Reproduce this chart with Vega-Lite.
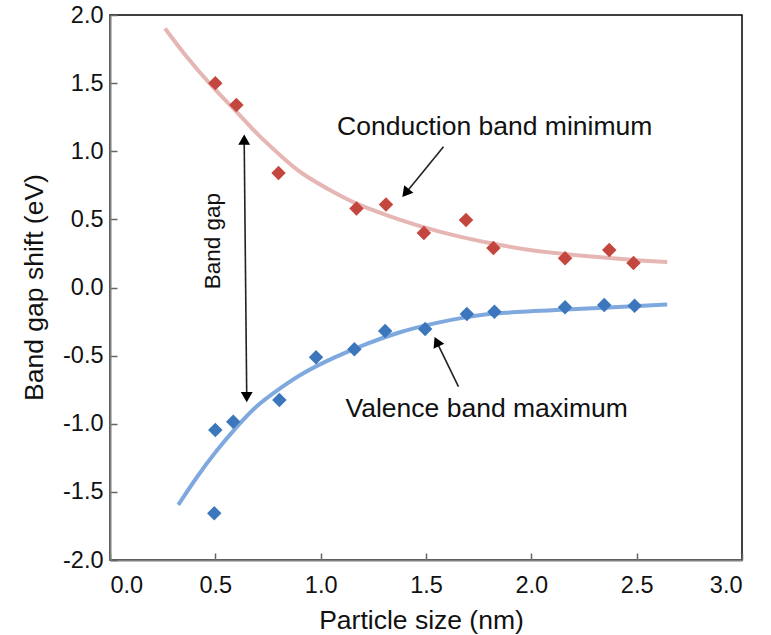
{
  "$schema": "https://vega.github.io/schema/vega-lite/v6.json",
  "autosize": "none",
  "width": 632,
  "height": 545,
  "padding": {"left": 110, "top": 15, "right": 29, "bottom": 75},
  "background": "white",
  "config": {
    "font": "Liberation Sans",
    "view": {"stroke": "black", "strokeWidth": 1.5},
    "axis": {
      "grid": false,
      "domainColor": "#7f7f7f",
      "domainWidth": 2,
      "tickColor": "#666666",
      "tickWidth": 1.5,
      "tickSize": -7,
      "labelFont": "Liberation Sans",
      "labelFontSize": 23.5,
      "labelColor": "#111",
      "titleFont": "Liberation Sans",
      "titleFontSize": 26.5,
      "titleFontWeight": "normal",
      "titleColor": "#111"
    }
  },
  "datasets": {
    "points": [
      {"size": 0.50, "shift": 1.50, "series": "CB data"},
      {"size": 0.60, "shift": 1.34, "series": "CB data"},
      {"size": 0.80, "shift": 0.84, "series": "CB data"},
      {"size": 1.17, "shift": 0.58, "series": "CB data"},
      {"size": 1.31, "shift": 0.61, "series": "CB data"},
      {"size": 1.49, "shift": 0.40, "series": "CB data"},
      {"size": 1.69, "shift": 0.495, "series": "CB data"},
      {"size": 1.82, "shift": 0.29, "series": "CB data"},
      {"size": 2.16, "shift": 0.215, "series": "CB data"},
      {"size": 2.37, "shift": 0.275, "series": "CB data"},
      {"size": 2.485, "shift": 0.18, "series": "CB data"},
      {"size": 0.50, "shift": -1.046, "series": "VB data"},
      {"size": 0.585, "shift": -0.985, "series": "VB data"},
      {"size": 0.495, "shift": -1.657, "series": "VB data"},
      {"size": 0.804, "shift": -0.826, "series": "VB data"},
      {"size": 0.978, "shift": -0.512, "series": "VB data"},
      {"size": 1.16, "shift": -0.454, "series": "VB data"},
      {"size": 1.306, "shift": -0.319, "series": "VB data"},
      {"size": 1.496, "shift": -0.305, "series": "VB data"},
      {"size": 1.694, "shift": -0.194, "series": "VB data"},
      {"size": 1.825, "shift": -0.178, "series": "VB data"},
      {"size": 2.16, "shift": -0.145, "series": "VB data"},
      {"size": 2.346, "shift": -0.128, "series": "VB data"},
      {"size": 2.49, "shift": -0.134, "series": "VB data"}
    ],
    "curves": [
      {"size": 0.261, "shift": 1.902, "series": "CB fit"},
      {"size": 0.348, "shift": 1.719, "series": "CB fit"},
      {"size": 0.491, "shift": 1.462, "series": "CB fit"},
      {"size": 0.602, "shift": 1.29, "series": "CB fit"},
      {"size": 0.700, "shift": 1.12, "series": "CB fit"},
      {"size": 0.823, "shift": 0.95, "series": "CB fit"},
      {"size": 0.902, "shift": 0.84, "series": "CB fit"},
      {"size": 1.06, "shift": 0.70, "series": "CB fit"},
      {"size": 1.171, "shift": 0.61, "series": "CB fit"},
      {"size": 1.314, "shift": 0.53, "series": "CB fit"},
      {"size": 1.488, "shift": 0.44, "series": "CB fit"},
      {"size": 1.662, "shift": 0.37, "series": "CB fit"},
      {"size": 1.852, "shift": 0.31, "series": "CB fit"},
      {"size": 2.0, "shift": 0.272, "series": "CB fit"},
      {"size": 2.16, "shift": 0.245, "series": "CB fit"},
      {"size": 2.37, "shift": 0.215, "series": "CB fit"},
      {"size": 2.5, "shift": 0.20, "series": "CB fit"},
      {"size": 2.645, "shift": 0.187, "series": "CB fit"},
      {"size": 0.324, "shift": -1.596, "series": "VB fit"},
      {"size": 0.412, "shift": -1.389, "series": "VB fit"},
      {"size": 0.507, "shift": -1.193, "series": "VB fit"},
      {"size": 0.602, "shift": -1.021, "series": "VB fit"},
      {"size": 0.697, "shift": -0.862, "series": "VB fit"},
      {"size": 0.807, "shift": -0.74, "series": "VB fit"},
      {"size": 0.91, "shift": -0.63, "series": "VB fit"},
      {"size": 1.06, "shift": -0.515, "series": "VB fit"},
      {"size": 1.219, "shift": -0.41, "series": "VB fit"},
      {"size": 1.377, "shift": -0.324, "series": "VB fit"},
      {"size": 1.535, "shift": -0.263, "series": "VB fit"},
      {"size": 1.694, "shift": -0.214, "series": "VB fit"},
      {"size": 1.852, "shift": -0.185, "series": "VB fit"},
      {"size": 2.16, "shift": -0.163, "series": "VB fit"},
      {"size": 2.35, "shift": -0.148, "series": "VB fit"},
      {"size": 2.49, "shift": -0.137, "series": "VB fit"},
      {"size": 2.645, "shift": -0.125, "series": "VB fit"}
    ],
    "arrows": [
      {"x": 0.637, "y": 1.075, "x2": 0.649, "y2": -0.796},
      {"x": 1.583, "y": 1.033, "x2": 1.406, "y2": 0.697},
      {"x": 1.654, "y": -0.728, "x2": 1.552, "y2": -0.403}
    ],
    "heads": [
      {"x": 0.637, "y": 1.085, "heading": 0},
      {"x": 0.649, "y": -0.805, "heading": 180},
      {"x": 1.403, "y": 0.693, "heading": 219},
      {"x": 1.551, "y": -0.398, "heading": 335}
    ],
    "labels": [
      {"x": 1.826, "y": 1.119, "text": "Conduction band minimum"},
      {"x": 1.788, "y": -0.948, "text": "Valence band maximum"}
    ],
    "vlabels": [
      {"x": 0.489, "y": 0.341, "text": "Band gap"}
    ]
  },
  "encoding": {
    "x": {
      "type": "quantitative",
      "scale": {"domain": [0, 3], "nice": false},
      "axis": {
        "title": "Particle size (nm)",
        "values": [0, 0.5, 1, 1.5, 2, 2.5, 3],
        "labelExpr": "replace(format(datum.value, '.1f'), '\u2212', '-')",
        "labelPadding": 20,
        "titleX": 311,
        "titleY": 68,
        "titleBaseline": "alphabetic"
      }
    },
    "y": {
      "type": "quantitative",
      "scale": {"domain": [-2, 2], "nice": false},
      "axis": {
        "title": "Band gap shift (eV)",
        "values": [-2, -1.5, -1, -0.5, 0, 0.5, 1, 1.5, 2],
        "labelExpr": "replace(format(datum.value, '.1f'), '\u2212', '-')",
        "labelPadding": 14,
        "titleX": -68,
        "titleY": 272,
        "titleAngle": -90,
        "titleBaseline": "alphabetic",
        "titleAlign": "center"
      }
    }
  },
  "layer": [
    {
      "data": {"name": "curves"},
      "mark": {"type": "line", "strokeWidth": 4, "interpolate": "basis"},
      "encoding": {
        "x": {"field": "size"},
        "y": {"field": "shift"},
        "color": {
          "field": "series",
          "type": "nominal",
          "scale": {"domain": ["CB fit", "VB fit", "CB data", "VB data"], "range": ["#e6b6b4", "#7fa9de", "#c4473f", "#3c77bd"]},
          "legend": null
        }
      }
    },
    {
      "data": {"name": "points"},
      "mark": {"type": "point", "shape": "diamond", "filled": true, "opacity": 1, "size": 210},
      "encoding": {
        "x": {"field": "size"},
        "y": {"field": "shift"},
        "color": {"field": "series", "type": "nominal", "legend": null}
      }
    },
    {
      "data": {"name": "arrows"},
      "mark": {"type": "rule", "color": "#222", "strokeWidth": 1.6},
      "encoding": {
        "x": {"field": "x"},
        "y": {"field": "y"},
        "x2": {"field": "x2"},
        "y2": {"field": "y2"}
      }
    },
    {
      "data": {"name": "heads"},
      "mark": {"type": "point", "shape": "triangle-up", "filled": true, "color": "black", "opacity": 1, "size": 140},
      "encoding": {
        "x": {"field": "x"},
        "y": {"field": "y"},
        "angle": {"field": "heading", "type": "quantitative", "scale": null}
      }
    },
    {
      "data": {"name": "labels"},
      "mark": {"type": "text", "fontSize": 26.5, "align": "center", "baseline": "alphabetic", "color": "#111", "font": "Liberation Sans"},
      "encoding": {
        "x": {"field": "x"},
        "y": {"field": "y"},
        "text": {"field": "text"}
      }
    },
    {
      "data": {"name": "vlabels"},
      "mark": {"type": "text", "fontSize": 22.5, "align": "center", "baseline": "middle", "angle": 270, "color": "#111", "font": "Liberation Sans"},
      "encoding": {
        "x": {"field": "x"},
        "y": {"field": "y"},
        "text": {"field": "text"}
      }
    }
  ]
}
